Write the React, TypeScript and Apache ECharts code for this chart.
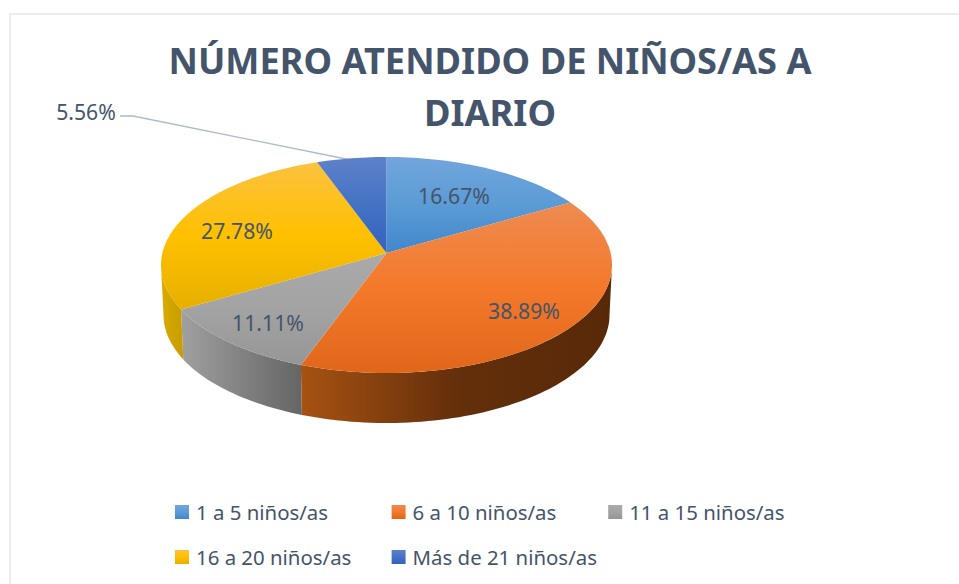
import React, { useEffect, useRef } from "react";
import * as echarts from "echarts";

const titleText = "NÚMERO ATENDIDO DE NIÑOS/AS A\nDIARIO";
const categories = ["1 a 5 niños/as", "6 a 10 niños/as", "11 a 15 niños/as", "16 a 20 niños/as", "Más de 21 niños/as"];
const counts = [3, 7, 2, 5, 1];

const topStops = [
  ["#72a6dc", "#5b9bd5", "#4287cd"],
  ["#ee8b52", "#f4792a", "#e0661a"],
  ["#aaaaaa", "#a3a3a3", "#969696"],
  ["#fbc23f", "#ffc000", "#e6b000"],
  ["#5f81ca", "#4472c4", "#3462be"],
];
const sideStops = [
  ["#4a7aa8", "#3f6c98", "#355c82"],
  ["#a65212", "#642f0b", "#582908"],
  ["#a0a0a0", "#828282", "#656565"],
  ["#d9ac00", "#cfa400", "#c89c00"],
  ["#2f5597", "#2f5597", "#2f5597"],
];
const labelPositions = [
  [454, 195],
  [524, 310],
  [268, 322],
  [237, 230],
  [86, 111],
];
const leaderPoints = [[120, 116], [133, 116], [351, 160]];

const FONT = "'Noto Sans', sans-serif";
const TEXT = "#44546a";
const CX = 386.5, TOP_CY = 265, BOTTOM_CY = 315, RY = 108, TOP_RX = 225.5, BOTTOM_RX = 223;
const K = -0.111;
const S = Math.sqrt(1 - K * K);

const project = (deg: number, cy: number, rx: number) => {
  const t = (deg * Math.PI) / 180;
  const X = Math.sin(t), Y = -Math.cos(t);
  const d = 1 + K * Y;
  return [CX + (rx * X * S) / d, cy + (RY * (Y + K)) / d];
};
const sample = (a: number, b: number, cy: number, rx: number) => {
  const n = Math.max(2, Math.ceil((b - a) / 1.5));
  const pts: number[][] = [];
  for (let i = 0; i <= n; i++) pts.push(project(a + ((b - a) * i) / n, cy, rx));
  return pts;
};
const gradient = (stops: string[], horizontal: boolean) =>
  new echarts.graphic.LinearGradient(0, 0, horizontal ? 1 : 0, horizontal ? 0 : 1, [
    { offset: 0, color: stops[0] },
    { offset: 0.5, color: stops[1] },
    { offset: 1, color: stops[2] },
  ]);

const total = counts.reduce((a, b) => a + b, 0);
const VIS_A = (Math.acos(K) * 180) / Math.PI;
const VIS_B = 360 - VIS_A;

export default function App() {
  const ref = useRef<HTMLDivElement>(null);
  useEffect(() => {
    const chart = echarts.init(ref.current!, undefined, { renderer: "svg" });
    let cum = 0;
    const series = categories.map((name, i) => {
      const start = (cum / total) * 360;
      cum += counts[i];
      const end = (cum / total) * 360;
      return {
        type: "custom",
        name,
        coordinateSystem: "none",
        silent: true,
        itemStyle: { color: topStops[i][1] },
        data: [[counts[i]]],
        renderItem: () => {
          const children: any[] = [];
          const a = Math.max(start, VIS_A), b = Math.min(end, VIS_B);
          if (b > a) {
            const up = sample(a, b, TOP_CY, TOP_RX);
            const low = sample(a, b, BOTTOM_CY, BOTTOM_RX).reverse();
            children.push({
              type: "polygon",
              shape: { points: up.concat(low) },
              style: { fill: gradient(sideStops[i], true) },
            });
          }
          const apex = [CX, TOP_CY + RY * K];
          children.push({
            type: "polygon",
            shape: { points: [apex, ...sample(start, end, TOP_CY, TOP_RX)] },
            style: { fill: gradient(topStops[i], false) },
          });
          children.push({
            type: "text",
            z2: 10,
            style: {
              x: labelPositions[i][0],
              y: labelPositions[i][1],
              text: ((counts[i] / total) * 100).toFixed(2) + "%",
              fill: TEXT,
              font: `21.2px ${FONT}`,
              align: "center",
              verticalAlign: "middle",
            },
          });
          return { type: "group", children };
        },
      };
    });
    chart.setOption({
      animation: false,
      backgroundColor: "#ffffff",
      title: {
        text: titleText,
        left: 485,
        top: 29,
        textAlign: "center",
        textStyle: { fontFamily: FONT, fontWeight: "bold", fontSize: 36.2, color: TEXT, lineHeight: 52 },
      },
      legend: {
        left: 170,
        top: 497,
        width: 680,
        icon: "rect",
        itemWidth: 14,
        itemHeight: 14,
        itemGap: 25,
        selectedMode: false,
        textStyle: {
          fontFamily: FONT,
          fontSize: 20.4,
          color: TEXT,
          width: 170.6,
          height: 18,
          lineHeight: 18,
          padding: [0, 0, 0, 2],
        },
        data: categories.map((name, i) => ({
          name,
          itemStyle: { color: gradient(topStops[i], false) },
        })),
      },
      graphic: [
        {
          type: "rect",
          silent: true,
          z: -1,
          shape: { x: 10, y: 14, width: 1000, height: 640 },
          style: { fill: "none", stroke: "#e3e6ec", lineWidth: 1.5 },
        },
        {
          type: "polyline",
          silent: true,
          shape: { points: leaderPoints },
          style: { fill: "none", stroke: "#aeb9c9", lineWidth: 1.3 },
        },
      ],
      series,
    });
    return () => chart.dispose();
  }, []);
  return <div ref={ref} style={{ position: "fixed", left: 0, top: 0, width: 959, height: 584 }} />;
}
